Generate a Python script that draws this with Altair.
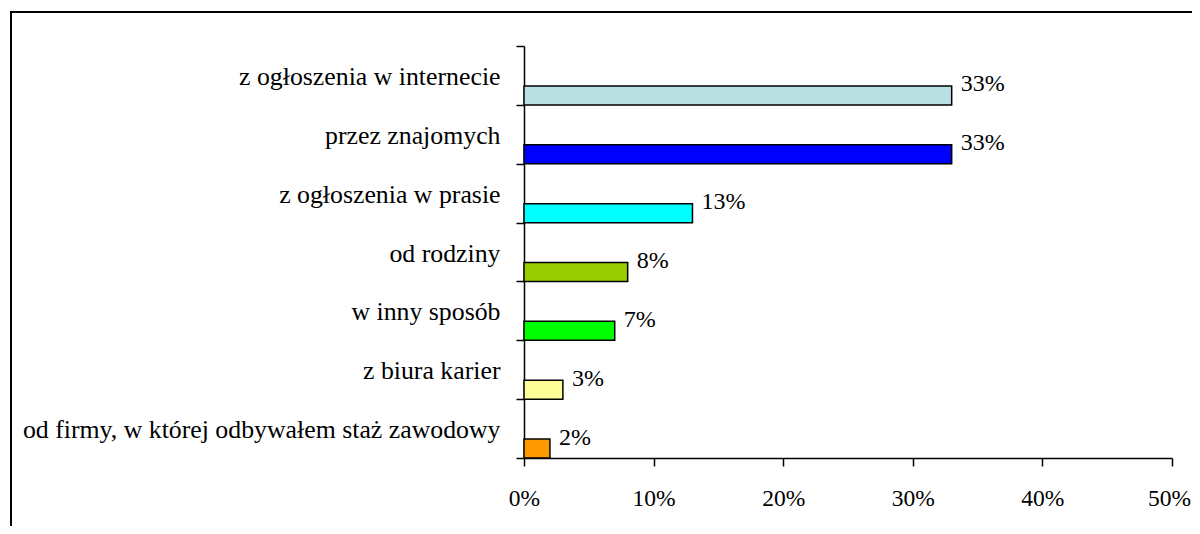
import altair as alt
import pandas as pd

categories = [
    "z ogłoszenia w internecie",
    "przez znajomych",
    "z ogłoszenia w prasie",
    "od rodziny",
    "w inny sposób\u00a0",
    "z biura karier",
    "od firmy, w której odbywałem staż zawodowy",
]
values = [33, 33, 13, 8, 7, 3, 2]
colors = ["#B9E0E3", "#0000FF", "#00FFFF", "#99CC00", "#00FF00", "#FFFF99", "#FF9900"]
x_ticks = [0, 10, 20, 30, 40, 50]

df = pd.DataFrame({"cat": categories, "val": values, "col": colors})

FONT = "Liberation Serif"
FS = 23.5

y_enc = alt.Y(
    "cat:N",
    sort=categories,
    scale=alt.Scale(paddingInner=0, paddingOuter=0),
    axis=alt.Axis(
        title=None,
        tickBand="extent",
        domainColor="black",
        domainWidth=1.5,
        tickColor="black",
        tickWidth=1.5,
        tickSize=8,
        labelFont=FONT,
        labelFontSize=25.8,
        labelColor="black",
        labelPadding=16,
        labelLimit=0,
        labelOffset=1,
    ),
)
x_enc = alt.X(
    "val:Q",
    scale=alt.Scale(domain=[0, 50], nice=False),
    axis=alt.Axis(
        title=None,
        values=x_ticks,
        labelExpr="datum.value + '%'",
        labelFlush=False,
        labelOffset={"condition": {"test": "datum.value == 50", "value": -3}, "value": 0},
        grid=False,
        domainColor="black",
        domainWidth=1.5,
        tickColor="black",
        tickWidth=1.5,
        tickSize=8,
        labelFont=FONT,
        labelFontSize=FS,
        labelColor="black",
        labelPadding=20,
    ),
)

base = alt.Chart(df)

bars = base.mark_bar(height=19, yOffset=20, stroke="black", strokeWidth=1.5).encode(
    y=y_enc,
    x=x_enc,
    fill=alt.Fill("col:N", scale=None, legend=None),
)

labels = base.transform_calculate(lbl="datum.val + '%'").mark_text(
    align="left", baseline="middle", dx=9, dy=9, font=FONT, fontSize=24, color="black"
).encode(
    y=alt.Y("cat:N", sort=categories),
    x=alt.X("val:Q"),
    text="lbl:N",
)

frame = alt.Chart(alt.Data(values=[{}])).mark_rect(
    fill=None, fillOpacity=0, stroke="black", strokeWidth=2
).encode(
    x=alt.value(-513), x2=alt.value(800), y=alt.value(-34), y2=alt.value(700)
)

chart = alt.layer(frame, bars, labels).properties(
    width=648,
    height=412,
    background="white",
    autosize=alt.AutoSizeParams(type="none"),
    padding={"left": 516, "top": 38, "right": 20, "bottom": 68},
).configure_view(stroke=None)

chart.save("out.html", embed_options={"renderer": "svg", "actions": False})
